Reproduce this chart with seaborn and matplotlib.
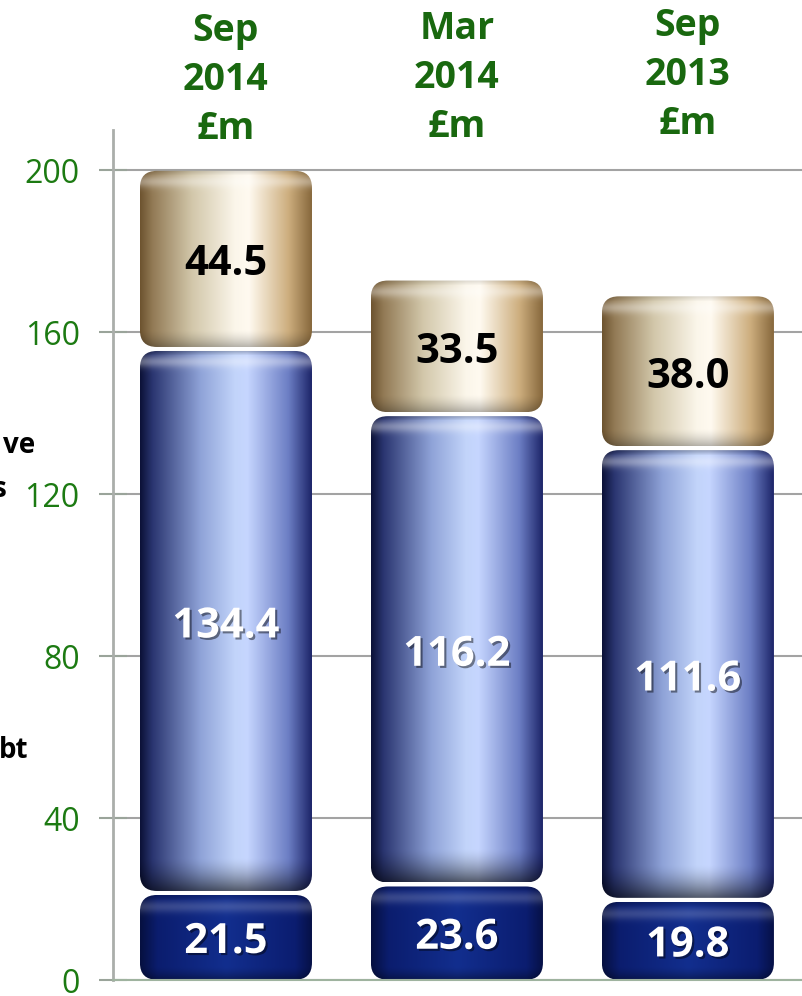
import numpy as np
import pandas as pd
import matplotlib
matplotlib.use("Agg")
import matplotlib.pyplot as plt
import seaborn as sns
from matplotlib.patches import FancyBboxPatch
import matplotlib.patheffects as pe
import matplotlib.transforms as mtransforms
from matplotlib.colors import to_rgb

# ---- data ----
periods = ["Sep\n2014\n£m", "Mar\n2014\n£m", "Sep\n2013\n£m"]
bottom_vals = [21.5, 23.6, 19.8]
middle_vals = [134.4, 116.2, 111.6]
top_vals = [44.5, 33.5, 38.0]
yticks = [0, 40, 80, 120, 160, 200]
side_fragments = ["ve", "s", "bt"]

sns.set_theme(style="white")
plt.rcParams["font.family"] = ["Open Sans", "DejaVu Sans"]

W_PX, H_PX = 802, 996
fig = plt.figure(figsize=(W_PX / 100, H_PX / 100), dpi=100)
fig.patch.set_facecolor("white")
ax = fig.add_axes([113 / W_PX, 16 / H_PX, (W_PX - 113) / W_PX, 850 / H_PX])
ax.set_facecolor("none")

df = pd.DataFrame({"period": periods, "bottom": bottom_vals,
                   "middle": middle_vals, "top": top_vals})
df["cum_bottom"] = df["bottom"]
df["cum_middle"] = df["bottom"] + df["middle"]
df["cum_top"] = df["cum_middle"] + df["top"]

layers = [("cum_top", "top"), ("cum_middle", "middle"), ("cum_bottom", "bottom")]
layer_patches = {}
for col, name in layers:
    n0 = len(ax.patches)
    sns.barplot(data=df, x="period", y=col, order=periods, width=0.745,
                color="grey", errorbar=None, ax=ax)
    layer_patches[name] = list(ax.patches[n0:])

ax.set_xlim(-0.489, 2.494)
ax.set_ylim(0, 210)

# pixel scales
p0 = ax.transData.transform((0, 0))
px_x = ax.transData.transform((1, 0))[0] - p0[0]
px_y = ax.transData.transform((0, 1))[1] - p0[1]

styles = {
    "top": dict(pos=[0, 0.07, 0.3, 0.55, 0.63, 0.86, 1.0],
                cols=["#6e5430", "#927a55", "#d2c7aa", "#fbf6ea", "#fffaf0", "#cdae7e", "#85663a"],
                hl=0.35, bz=18, bd=0.3, td=0.12),
    "middle": dict(pos=[0, 0.07, 0.35, 0.55, 0.62, 0.86, 1.0],
                   cols=["#0c1238", "#2a3570", "#8fa3d8", "#c2d4fa", "#c6d6ff", "#6c7ec4", "#1a2266"],
                   hl=0.35, bz=34, bd=0.6, td=0.25),
    "bottom": dict(pos=[0, 0.1, 0.5, 0.9, 1.0],
                   cols=["#061040", "#0b1d6e", "#122e8e", "#0b1d70", "#061045"],
                   hl=0.18, bz=14, bd=0.4, td=0.15),
}


def shade(Wp, Hp, st):
    t = np.linspace(0, 1, Wp)
    cols = np.array([to_rgb(c) for c in st["cols"]])
    rgb = np.stack([np.interp(t, st["pos"], cols[:, k]) for k in range(3)], axis=-1)
    img = np.repeat(rgb[None, :, :], Hp, axis=0)
    s = np.arange(Hp)[:, None]
    hl = st["hl"] * np.exp(-((s - 11) / 6.0) ** 2)
    img = img + (1 - img) * hl[..., None]
    d = np.clip((s - (Hp - st["bz"])) / st["bz"], 0, 1)
    img = img * (1 - st["bd"] * d ** 1.5)[..., None]
    topd = np.clip((5 - s) / 5, 0, 1)
    img = img * (1 - st["td"] * topd)[..., None]
    return np.clip(img, 0, 1)


gap = 2.0 / px_y
radius_px = 17
text_shift = 6.0 / px_y
lower = {"top": "middle", "middle": "bottom", "bottom": None}
for name in ["top", "middle", "bottom"]:
    for i, p in enumerate(layer_patches[name]):
        x0, w = p.get_x(), p.get_width()
        ytop = p.get_y() + p.get_height()
        if lower[name] is None:
            ybot = 0.0
        else:
            lp = layer_patches[lower[name]][i]
            ybot = lp.get_y() + lp.get_height()
        p.set_visible(False)
        yb = ybot + (gap if lower[name] else 0.3 / px_y)
        yt = ytop - gap
        h = yt - yb
        rx = radius_px / px_x
        ry = radius_px / px_y
        clip = FancyBboxPatch((x0, yb), w, h,
                              boxstyle=f"round,pad=0,rounding_size={rx}",
                              mutation_aspect=ry / rx,
                              facecolor="none", edgecolor="none", zorder=2)
        ax.add_patch(clip)
        Wp = max(int(w * px_x), 2)
        Hp = max(int(h * px_y), 2)
        im = ax.imshow(shade(Wp, Hp, styles[name]), extent=(x0, x0 + w, yb, yt),
                       origin="upper", aspect="auto", interpolation="bilinear", zorder=2)
        im.set_clip_path(clip)

        val = (top_vals if name == "top" else middle_vals if name == "middle" else bottom_vals)[i]
        color = "black" if name == "top" else "white"
        txt = ax.text(x0 + w / 2, (ybot + ytop) / 2 - text_shift, f"{val:.1f}",
                      ha="center", va="center",
                      fontsize=30, fontweight="bold", color=color, zorder=5)
        if color == "white":
            txt.set_path_effects([pe.withSimplePatchShadow(offset=(1.5, -1.5),
                                                           shadow_rgbFace="black", alpha=0.45)])

ax.set_xlim(-0.489, 2.494)
ax.set_ylim(0, 210)

# axes styling
ax.set_yticks(yticks)
ax.set_yticklabels([str(v) for v in yticks])
ax.tick_params(axis="y", direction="inout", length=20, width=1.5, color="#9aa49a",
               labelsize=23, labelcolor="#1c7a12", pad=14, left=True)
ax.tick_params(axis="x", length=0, labelbottom=False)
ax.set_xlabel("")
ax.set_ylabel("")
ax.yaxis.grid(True, color="#a3a3a3", linewidth=1.5)
ax.set_axisbelow(True)
for sp in ["top", "right"]:
    ax.spines[sp].set_visible(False)
ax.spines["left"].set_color("#aaaeaa")
ax.spines["left"].set_linewidth(2)
ax.spines["bottom"].set_color("#9fb39f")
ax.spines["bottom"].set_linewidth(1.5)

# column headers
hdr_tr = mtransforms.blended_transform_factory(ax.transData, fig.transFigure)
hdr_y = [80, 78, 75]
for i, lab in enumerate(periods):
    ax.text(i, 1 - hdr_y[i] / H_PX, lab, transform=hdr_tr, ha="center", va="center",
            fontsize=27, fontweight="bold", color="#19680f", linespacing=1.37,
            multialignment="center")

# clipped side labels at left edge
frag_pos = [(35, 453), (6, 497), (28, 758)]
for frag, (fx, fy) in zip(side_fragments, frag_pos):
    fig.text(fx / W_PX, 1 - fy / H_PX, frag, ha="right", va="baseline",
             fontsize=20, fontweight="bold", color="black")

fig.savefig("out.png", dpi=100, facecolor=fig.get_facecolor())
